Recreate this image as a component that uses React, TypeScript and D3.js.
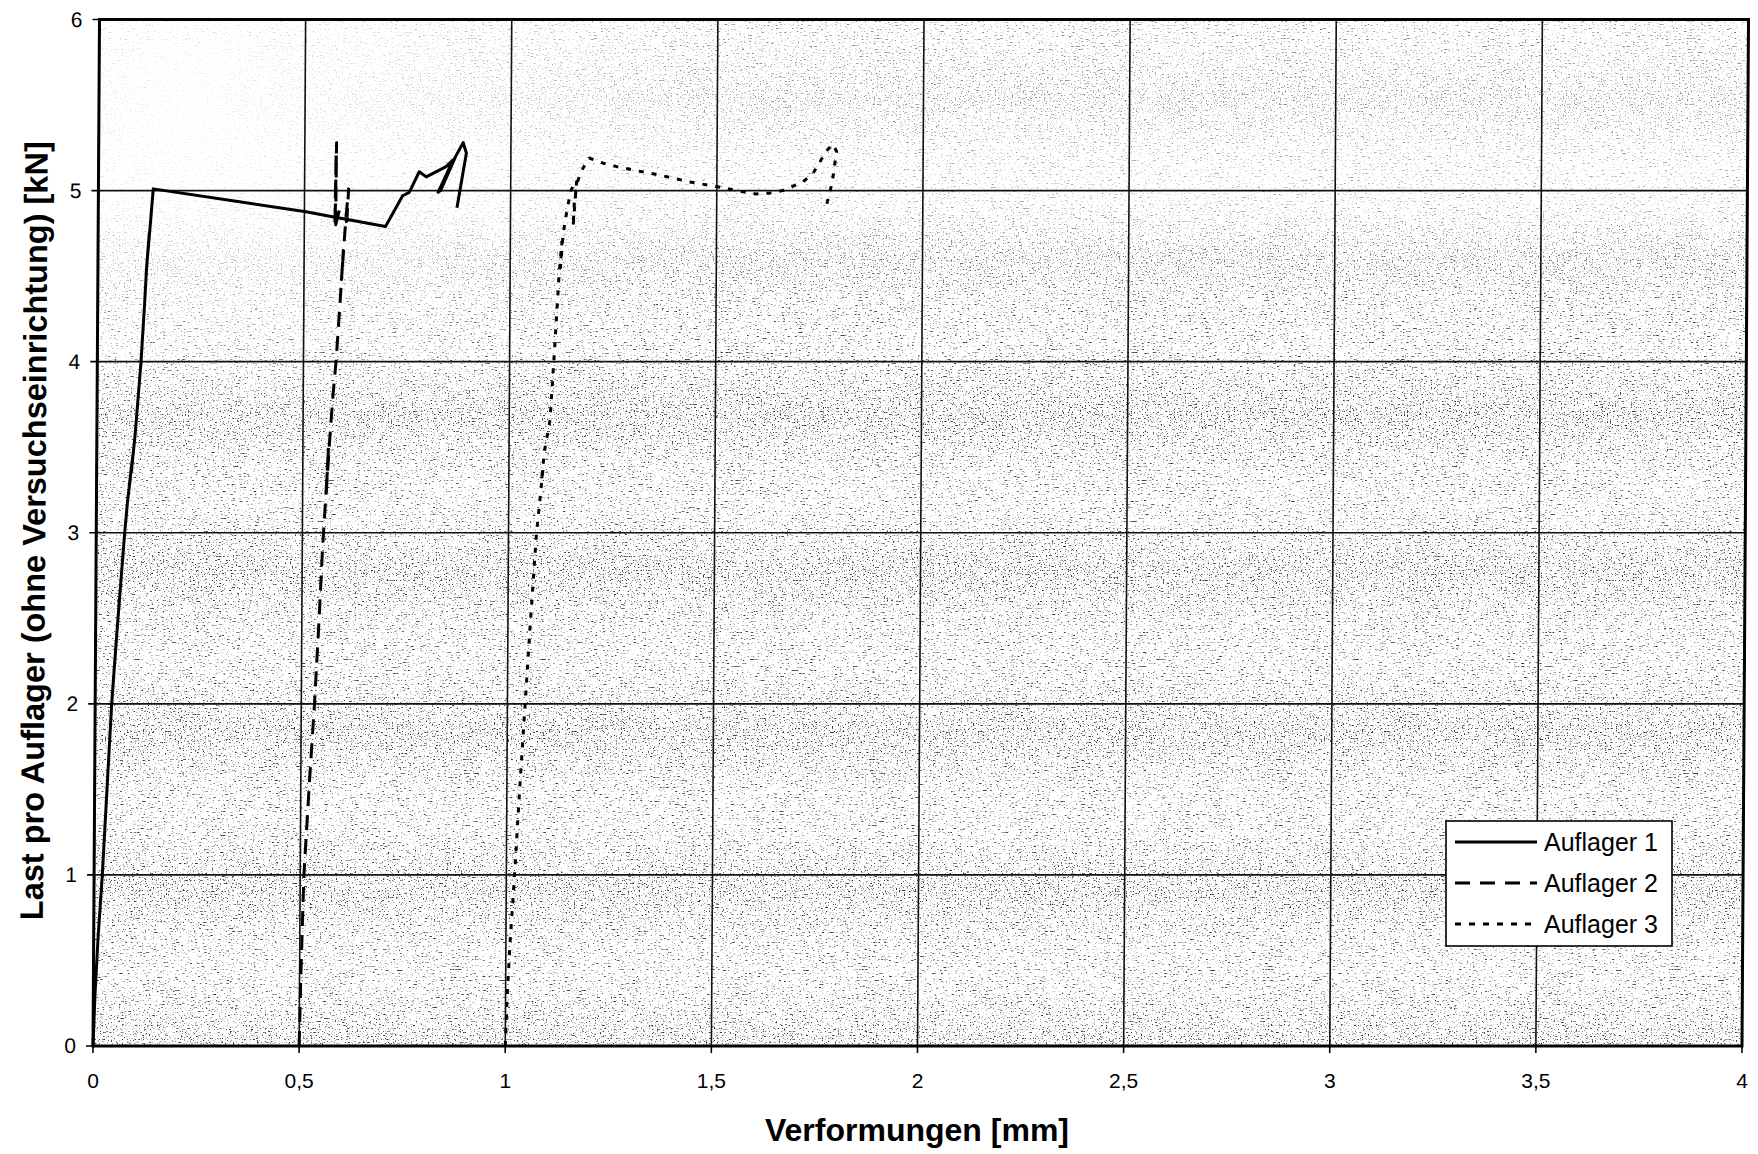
import React from "react";
import * as d3 from "d3";

// Load per support (kN) over deformation (mm)
const auflager1: [number, number][] = [
  [0, 0], [0.004, 0.3], [0.011, 0.65], [0.02, 1.0], [0.03, 1.5], [0.04, 2.0],
  [0.054, 2.5], [0.069, 3.0], [0.076, 3.2], [0.082, 3.32], [0.079, 3.27], [0.088, 3.46],
  [0.084, 3.35], [0.093, 3.58], [0.106, 4.0], [0.114, 4.35], [0.118, 4.55], [0.124, 4.75],
  [0.119, 4.58], [0.127, 4.82], [0.133, 5.01], [0.342, 4.935], [0.504, 4.876], [0.568, 4.847],
  [0.697, 4.79], [0.738, 4.97], [0.754, 4.99], [0.778, 5.11], [0.795, 5.08], [0.843, 5.14],
  [0.86, 5.18], [0.824, 4.99], [0.83, 5.0], [0.866, 5.2], [0.884, 5.28], [0.892, 5.22],
  [0.87, 4.9],
];

const auflager2: [number, number][] = [
  [0.5, 0], [0.503, 0.4], [0.509, 1.0], [0.52, 1.5], [0.532, 2.0], [0.542, 2.5],
  [0.549, 2.9], [0.556, 3.2], [0.562, 3.5], [0.557, 3.22], [0.565, 3.55], [0.572, 3.8],
  [0.579, 4.0], [0.588, 4.35], [0.595, 4.65], [0.591, 4.48], [0.598, 4.74], [0.601, 4.85],
  [0.607, 5.01], [0.603, 4.82], [0.576, 4.8], [0.577, 5.28], [0.575, 4.88], [0.576, 5.22],
  [0.574, 4.78], [0.583, 4.87], [0.593, 4.93],
];

const auflager3: [number, number][] = [
  [1.0, 0], [1.004, 0.3], [1.01, 0.6], [1.02, 1.0], [1.031, 1.5], [1.043, 2.0],
  [1.055, 2.5], [1.068, 3.0], [1.078, 3.25], [1.083, 3.38], [1.079, 3.3], [1.086, 3.48],
  [1.099, 3.66], [1.107, 3.99], [1.119, 4.52], [1.125, 4.7], [1.122, 4.55], [1.128, 4.75],
  [1.138, 4.9], [1.146, 5.0], [1.16, 5.06], [1.152, 4.79], [1.155, 4.95], [1.163, 5.06],
  [1.175, 5.13], [1.19, 5.19], [1.224, 5.16], [1.257, 5.14], [1.297, 5.12], [1.362, 5.09],
  [1.435, 5.05], [1.508, 5.02], [1.547, 5.0], [1.595, 4.98], [1.628, 4.985], [1.66, 5.0],
  [1.708, 5.05], [1.733, 5.1], [1.765, 5.23], [1.78, 5.27], [1.79, 5.23], [1.78, 5.05],
  [1.765, 4.9],
];

const seriesNames = ["Auflager 1", "Auflager 2", "Auflager 3"];
const xTicks = [0, 0.5, 1, 1.5, 2, 2.5, 3, 3.5, 4];
const yTicks = [0, 1, 2, 3, 4, 5, 6];
const xTitle = "Verformungen [mm]";
const yTitle = "Last pro Auflager (ohne Versuchseinrichtung) [kN]";

const W = 1758;
const H = 1154;
const FONT = "'Liberation Sans', Arial, Helvetica, sans-serif";

const dashes = ["none", "15 9", "5 8"];
const legendDashes = ["none", "15 10", "6 8"];

export default function App() {
  const left = 93;
  const right = 1742;
  const top = 19.5;
  const bottom = 1046;
  const x = d3.scaleLinear().domain([0, 4]).range([left, right]);
  const y = d3.scaleLinear().domain([0, 6]).range([bottom, top]);
  const line = d3
    .line<[number, number]>()
    .x((d) => x(d[0]))
    .y((d) => y(d[1]));
  const fmt = (v: number) => String(v).replace(".", ",");
  const series = [auflager1, auflager2, auflager3];

  // slight lean of the whole drawing
  const lean = `translate(0,${bottom}) skewX(-0.363) translate(0,${-bottom})`;

  const lx = 1446;
  const ly = 821;
  const lw = 226;
  const lh = 125;

  return (
    <svg
      width={W}
      height={H}
      viewBox={`0 0 ${W} ${H}`}
      style={{ position: "absolute", left: 0, top: 0, display: "block", background: "#fff" }}
      fontFamily={FONT}
    >
      <defs>
        <filter
          id="stipple"
          filterUnits="userSpaceOnUse"
          x={left}
          y={top}
          width={right - left}
          height={bottom - top}
          colorInterpolationFilters="sRGB"
        >
          <feTurbulence type="fractalNoise" baseFrequency="0.63 0.71" numOctaves="2" seed="11" result="noise" />
          <feColorMatrix
            in="noise"
            type="matrix"
            values="0 0 0 0 0.22  0 0 0 0 0.22  0 0 0 0 0.22  1 0 0 0 0"
            result="mono"
          />
          <feComponentTransfer in="mono">
            <feFuncA type="linear" slope="6" intercept="-3.45" />
          </feComponentTransfer>
        </filter>
        <linearGradient id="fadeTop" x1="0" y1="0" x2="0" y2="1">
          <stop offset="0" stopColor="#000" stopOpacity="0.35" />
          <stop offset="0.17" stopColor="#000" stopOpacity="0.55" />
          <stop offset="0.3" stopColor="#000" stopOpacity="0" />
        </linearGradient>
        <radialGradient id="fadeCorner" cx="0.05" cy="0.08" r="0.35">
          <stop offset="0" stopColor="#000" stopOpacity="0.9" />
          <stop offset="1" stopColor="#000" stopOpacity="0" />
        </radialGradient>
        <mask id="grainMask" maskUnits="userSpaceOnUse" x={left} y={top} width={right - left} height={bottom - top}>
          <rect x={left} y={top} width={right - left} height={bottom - top} fill="#fff" />
          <rect x={left} y={top} width={right - left} height={bottom - top} fill="url(#fadeTop)" />
          <rect x={left} y={top} width={right - left} height={bottom - top} fill="url(#fadeCorner)" />
        </mask>
      </defs>

      <g transform={lean}>
        {/* plot background */}
        <rect x={left} y={top} width={right - left} height={bottom - top} fill="#fff" />
        <rect
          x={left}
          y={top}
          width={right - left}
          height={bottom - top}
          fill="#000"
          filter="url(#stipple)"
          mask="url(#grainMask)"
        />

        {/* grid */}
        {xTicks.map((t) => (
          <line key={`gx${t}`} x1={x(t)} x2={x(t)} y1={top} y2={bottom} stroke="#111" strokeWidth={1.6} />
        ))}
        {yTicks.map((t) => (
          <line key={`gy${t}`} x1={left} x2={right} y1={y(t)} y2={y(t)} stroke="#111" strokeWidth={1.6} />
        ))}

        {/* ticks */}
        {xTicks.map((t) => (
          <line key={`tx${t}`} x1={x(t)} x2={x(t)} y1={bottom} y2={bottom + 7} stroke="#000" strokeWidth={1.6} />
        ))}
        {yTicks.map((t) => (
          <line key={`ty${t}`} x1={left - 7} x2={left} y1={y(t)} y2={y(t)} stroke="#000" strokeWidth={1.6} />
        ))}

        {/* frame */}
        <rect
          x={left}
          y={top}
          width={right - left}
          height={bottom - top}
          fill="none"
          stroke="#000"
          strokeWidth={3}
        />

        {/* series */}
        {series.map((s, i) => (
          <path
            key={seriesNames[i]}
            d={line(s) ?? ""}
            fill="none"
            stroke="#000"
            strokeWidth={3}
            strokeDasharray={dashes[i]}
            strokeLinejoin="round"
          />
        ))}

        {/* y tick labels */}
        {yTicks.map((t) => (
          <text
            key={`ly${t}`}
            x={left - 17}
            y={y(t) + 7.5}
            textAnchor="end"
            fontSize={21}
            fill="#000"
          >
            {fmt(t)}
          </text>
        ))}

        {/* y title */}
        <text
          transform={`translate(42,${(top + bottom) / 2 - 2}) rotate(-90)`}
          textAnchor="middle"
          fontSize={32.5}
          fontWeight="bold"
          fill="#000"
        >
          {yTitle}
        </text>
      </g>

      {/* x tick labels */}
      {xTicks.map((t) => (
        <text key={`lx${t}`} x={x(t)} y={bottom + 41.5} textAnchor="middle" fontSize={21} fill="#000">
          {fmt(t)}
        </text>
      ))}

      {/* x title */}
      <text x={917} y={1141} textAnchor="middle" fontSize={32} fontWeight="bold" fill="#000">
        {xTitle}
      </text>

      {/* legend */}
      <g>
        <rect x={lx} y={ly} width={lw} height={lh} fill="#fff" stroke="#000" strokeWidth={1.6} />
        {seriesNames.map((name, i) => {
          const ry = ly + 21 + i * 41;
          return (
            <g key={name}>
              <line
                x1={lx + 9}
                x2={lx + 91}
                y1={ry}
                y2={ry}
                stroke="#000"
                strokeWidth={3}
                strokeDasharray={legendDashes[i]}
              />
              <text x={lx + 98} y={ry + 9} fontSize={25} fill="#000">
                {name}
              </text>
            </g>
          );
        })}
      </g>
    </svg>
  );
}
